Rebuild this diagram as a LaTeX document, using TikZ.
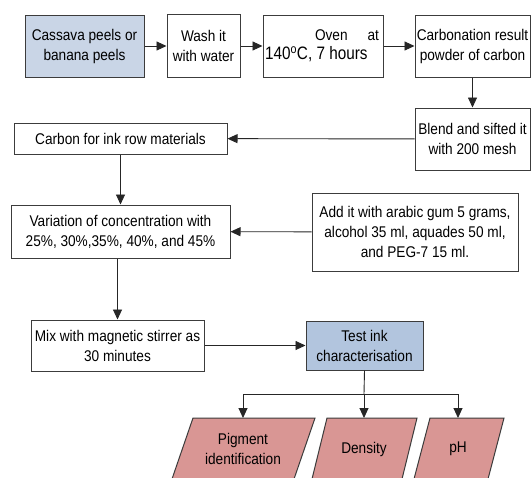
\documentclass[tikz,border=0pt]{standalone}
\usepackage{fontspec}
\setmainfont[FakeStretch=0.88]{Liberation Sans}
\newfontfamily\ovenfont[FakeStretch=0.85]{Liberation Sans}
\usetikzlibrary{arrows.meta}
\definecolor{edge}{HTML}{3C3C3C}
\definecolor{lightblue}{HTML}{C9D5E6}
\definecolor{testblue}{HTML}{B2C5DE}
\definecolor{pink}{HTML}{D99694}
\begin{document}
\begin{tikzpicture}[x=1pt,y=-1pt,
  box/.style={draw=edge, line width=1pt, fill=white, inner sep=0pt, align=center,
    font=\fontsize{15.5}{20}\selectfont},
  paral/.style={draw=edge, line width=1pt, fill=pink},
  ptext/.style={inner sep=0pt, align=center, font=\fontsize{15.5}{20}\selectfont},
  conn/.style={draw=black!85, line width=0.9pt, -{Triangle[length=10pt,width=9pt]}},
  line/.style={draw=black!85, line width=0.9pt}]
\useasboundingbox (0,0) rectangle (532,477);
\fill[white] (0,0) rectangle (532,477);

\node[box, fill=lightblue, minimum width=119, minimum height=62] (cas) at (84.5,46) {Cassava peels or\\banana peels};
\node[box, minimum width=73, minimum height=63] (wash) at (203.5,46) {Wash it\\with water};
\node[box, minimum width=120, minimum height=62] (oven) at (323,46)
  {\parbox{112pt}{\hspace*{48pt}Oven\hfill at\\[-1pt]\hspace*{-2pt}{\ovenfont\fontsize{18}{20}\selectfont 140\textsuperscript{o}C, 7 hours}}};
\node[box, minimum width=115, minimum height=62] (carb) at (472.5,46) {Carbonation result\\powder of carbon};
\node[box, minimum width=115, minimum height=62] (blend) at (472.5,139) {Blend and sifted it\\with 200 mesh};
\node[box, minimum width=213, minimum height=31] (carbon) at (120.5,138.5) {Carbon for ink row materials};
\node[box, minimum width=219, minimum height=53] (var) at (120.5,231.5) {Variation of concentration with\\25\%, 30\%,35\%, 40\%, and 45\%};
\node[box, minimum width=206, minimum height=78] (add) at (415,232) {Add it with arabic gum 5 grams,\\alcohol 35 ml, aquades 50 ml,\\and PEG-7 15 ml.};
\node[box, minimum width=173, minimum height=51] (mix) at (117.5,345.5) {Mix with magnetic stirrer as\\30 minutes};
\node[box, fill=testblue, minimum width=117, minimum height=49] (test) at (364.5,345.5) {Test ink\\characterisation};

% parallelograms
\draw[paral] (193,418) -- (315,418) -- (294,479) -- (172,479) -- cycle;
\draw[paral] (327,418) -- (417,418) -- (402,479) -- (312,479) -- cycle;
\draw[paral] (430,418) -- (504,418) -- (488,479) -- (414,479) -- cycle;
\node[ptext] (pig) at (243,449) {Pigment\\identification};
\node[ptext] (den) at (364,449) {Density};
\node[ptext] (ph) at (458,449) {pH};
\coordinate (pigtop) at (243,418);
\coordinate (dentop) at (364,418);
\coordinate (phtop) at (458,418);
\coordinate (split) at (364,394);

% connectors
\draw[conn] (cas) -- (wash);
\draw[conn] (wash) -- (oven);
\draw[conn] (oven) -- (carb);
\draw[conn] (carb) -- (blend);
\draw[conn] (blend) -- (carbon);
\draw[conn] (carbon) -- (var);
\draw[conn] (add) -- (var);
\draw[conn] (var.south -| mix.north) -- (mix.north);
\draw[conn] (mix) -- (test);
\draw[line] (test.south) -- (split);
\draw[line] (split -| pigtop) -- (split -| phtop);
\draw[conn] (split -| pigtop) -- (pigtop);
\draw[conn] (split) -- (dentop);
\draw[conn] (split -| phtop) -- (phtop);
\end{tikzpicture}
\end{document}
